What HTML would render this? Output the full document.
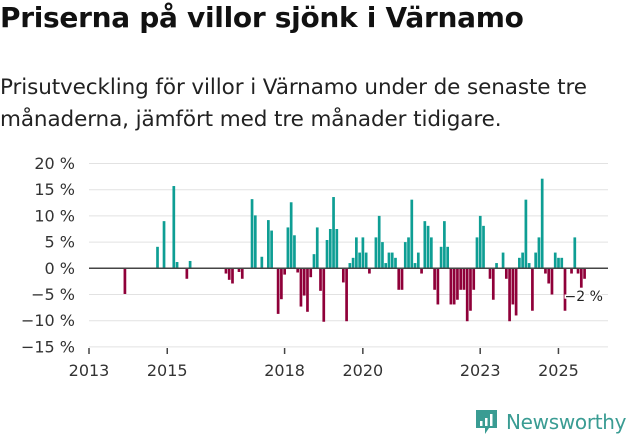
<!DOCTYPE html>
<html><head><meta charset="utf-8"><style>
body{margin:0;width:631px;height:439px;background:#fff;font-family:"DejaVu Sans","Liberation Sans",sans-serif;overflow:hidden;position:relative;color:#111}
h1{position:absolute;left:0;top:1px;margin:0;font-size:28px;font-weight:bold;letter-spacing:-0.3px}
p{position:absolute;left:0;top:72px;margin:0;font-size:21.5px;line-height:32px;color:#222;width:631px;letter-spacing:-0.1px}
svg{position:absolute;left:0;top:0}
</style></head><body>
<h1>Priserna på villor sjönk i Värnamo</h1>
<p>Prisutveckling för villor i Värnamo under de senaste tre månaderna, jämfört med tre månader tidigare.</p>
<svg id="c" width="631" height="439"></svg>
<div style="position:absolute;left:475px;top:408px;display:flex;align-items:center;gap:7px">
<svg width="24" height="28" style="position:static"><path d="M1 2h21v18h-8l-4 6v-6H1z" fill="#3a9c93"/><rect x="5" y="13" width="2.5" height="5" fill="#fff"/><rect x="10" y="10" width="2.5" height="8" fill="#fff"/><rect x="15" y="6" width="2.5" height="12" fill="#fff"/></svg>
<span style="font-size:20px;color:#3a9c93;font-weight:500;letter-spacing:-0.3px">Newsworthy</span></div>
<script>
const months=[11,21,23,26,27,30,31,42,43,44,46,47,50,51,53,55,56,58,59,60,61,62,63,64,65,66,67,68,69,70,71,72,73,74,75,76,78,79,80,81,82,83,84,85,86,88,89,90,91,92,93,94,95,96,97,98,99,100,101,102,103,104,105,106,107,108,109,110,111,112,113,114,115,116,117,118,119,120,121,123,124,125,127,128,129,130,131,132,133,134,135,136,137,138,139,140,141,142,143,144,145,146,148,149,150,151,152];
const values=[-4.9,4.1,9.0,15.7,1.2,-2.0,1.4,-1.0,-2.2,-2.9,-0.7,-2.0,13.2,10.1,2.2,9.2,7.2,-8.7,-5.9,-1.2,7.8,12.6,6.3,-0.8,-7.3,-5.2,-8.3,-1.7,2.7,7.8,-4.3,-10.2,5.4,7.5,13.6,7.5,-2.7,-10.1,1.0,2.0,5.9,3.0,5.9,3.0,-1.0,5.9,10.0,5.0,1.0,3.0,3.0,2.0,-4.1,-4.1,5.0,5.9,13.1,1.0,3.0,-1.0,9.0,8.1,5.9,-4.1,-6.9,4.1,9.0,4.1,-6.9,-6.9,-6.0,-4.1,-4.1,-10.1,-8.1,-4.1,5.9,10.0,8.1,-2.0,-6.0,1.0,3.0,-2.0,-10.1,-6.9,-9.0,2.0,3.0,13.1,1.0,-8.1,3.0,5.9,17.1,-1.0,-2.9,-5.0,3.0,2.0,2.0,-8.1,-1.0,5.9,-1.0,-3.7,-2.0];
const yTicks=[20,15,10,5,0,-5,-10,-15];
const xTickYears=[2013,2015,2018,2020,2023,2025];
const lastLabel="−2 %";
const NS="http://www.w3.org/2000/svg",svg=document.getElementById('c');
const X0=89,MW=3.26,Y0=268.3,PPU=5.24;
const x=m=>X0+m*MW, y=v=>Y0-v*PPU;
function el(t,a){const e=document.createElementNS(NS,t);for(const k in a)e.setAttribute(k,a[k]);svg.appendChild(e);return e;}
yTicks.forEach(v=>{
 if(v!==0&&v!==-15){const g=el('line',{x1:89,x2:608,y1:y(v),y2:y(v),stroke:'#e2e2e2','stroke-width':1});
 
 }
 const t=el('text',{x:75,y:y(v)+5.5,'text-anchor':'end','font-size':16,fill:'#333'});t.textContent=(v<0?'−'+(-v):v)+' %';
 
 
});
const ax=el('line',{x1:89,x2:608,y1:y(-15),y2:y(-15),stroke:'#e2e2e2','stroke-width':1});


months.forEach((m,i)=>{const v=values[i];
 const r=el('rect',{x:x(m)-1.3,width:2.7,y:Math.min(y(v),Y0),height:Math.abs(y(v)-Y0),fill:v>=0?'#0e9e94':'#8f0039'});
 
 
});
const z=el('line',{x1:89,x2:608,y1:Y0,y2:Y0,stroke:'#444','stroke-width':1.5});


xTickYears.forEach(yr=>{const xx=x((yr-2013)*12);
 const tk=el('line',{x1:xx,x2:xx,y1:348,y2:354,stroke:'#444','stroke-width':1.5});
 
 
 const t=el('text',{x:xx,y:376,'text-anchor':'middle','font-size':16,fill:'#333'});t.textContent=yr;
 
 
});
const lm=months[months.length-1],lv=values[values.length-1];
const lb=el('text',{x:x(lm)-20,y:y(lv)+22,'font-size':14,fill:'#222',stroke:'#fff','stroke-width':3,'paint-order':'stroke'});lb.textContent=lastLabel;


</script>
</body></html>
